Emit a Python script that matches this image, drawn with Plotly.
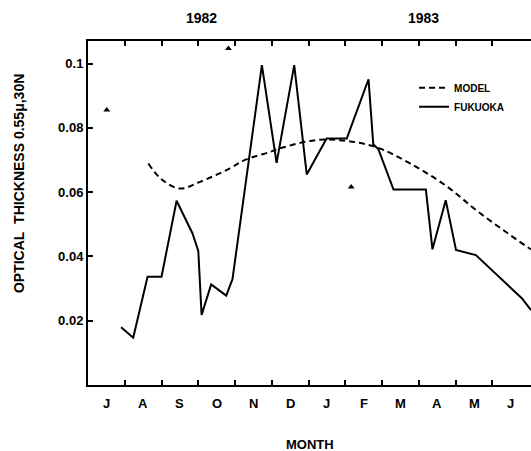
import plotly.graph_objects as go

# x = months since 1 July 1982
month_labels = ["J", "A", "S", "O", "N", "D", "J", "F", "M", "A", "M", "J"]
month_centers = [i + 0.5 for i in range(12)]
month_ticks = list(range(1, 12))
years = ["1982", "1983"]
year_pos = [3.1, 9.12]

fuk_x = [0.90, 1.23, 1.62, 2.00, 2.41, 2.84, 3.00, 3.09, 3.35, 3.76, 3.93, 4.09,
         4.73, 5.13, 5.61, 5.95, 6.49, 7.04, 7.63, 7.76, 7.90, 8.31, 9.19, 9.37,
         9.73, 10.01, 10.55, 11.80, 12.05]
fuk_y = [0.018, 0.0147, 0.0337, 0.0337, 0.0573, 0.0472, 0.0417, 0.0218, 0.0313, 0.0278,
         0.0329, 0.0461, 0.0995, 0.0691, 0.0995, 0.0655, 0.0767, 0.0767, 0.0951, 0.0749,
         0.0733, 0.0608, 0.0608, 0.0422, 0.0575, 0.042, 0.0404, 0.027, 0.0233]

model_x = [1.64, 2.0, 2.5, 3.05, 3.86, 4.27, 4.95, 5.22, 6.22, 7.04, 7.86, 8.76,
           9.71, 10.67, 11.94, 12.05]
model_y = [0.0689, 0.0640, 0.0611, 0.0632, 0.0674, 0.0700, 0.0725, 0.0736, 0.0762,
           0.0759, 0.0739, 0.0689, 0.0622, 0.0534, 0.043, 0.0422]

tri_x = [0.51, 3.82, 7.16]
tri_y = [0.0855, 0.1047, 0.0616]

y_ticks = [0.02, 0.04, 0.06, 0.08, 0.1]
y_labels = ["0.02", "0.04", "0.06", "0.08", "0.1"]

fig = go.Figure()
fig.add_trace(go.Scatter(x=model_x, y=model_y, mode="lines", name="<b>MODEL</b>",
                         line=dict(color="black", width=2, dash="6px,4px", shape="spline")))
fig.add_trace(go.Scatter(x=fuk_x, y=fuk_y, mode="lines", name="<b>FUKUOKA</b>",
                         line=dict(color="black", width=2)))
fig.add_trace(go.Scatter(x=tri_x, y=tri_y, mode="markers", showlegend=False,
                         marker=dict(symbol="triangle-up", size=6, color="black")))

fontfam = "Liberation Sans, Arial, sans-serif"
ann = []
for lab, xc in zip(month_labels, month_centers):
    ann.append(dict(x=xc, y=-0.055, xref="x", yref="paper", text="<b>%s</b>" % lab,
                    showarrow=False, font=dict(size=13, color="black", family=fontfam),
                    xanchor="center", yanchor="middle"))
for lab, xc in zip(years, year_pos):
    ann.append(dict(x=xc, y=1.067, xref="x", yref="paper", text="<b>%s</b>" % lab,
                    showarrow=False, font=dict(size=14, color="black", family=fontfam),
                    xanchor="center", yanchor="middle"))
ann.append(dict(x=6.04, y=-0.174, xref="x", yref="paper", text="<b>MONTH</b>",
                showarrow=False, font=dict(size=13, color="black", family=fontfam),
                xanchor="center", yanchor="middle"))
ann.append(dict(x=0, y=0.584, xref="paper", yref="paper", xshift=-69,
                text="<b>OPTICAL\u00a0\u00a0THICKNESS 0.55μ,30N</b>", textangle=-90,
                showarrow=False,
                font=dict(size=14, color="black", family=fontfam),
                xanchor="center", yanchor="middle"))

fig.update_layout(
    width=531, height=451,
    margin=dict(l=88, r=0, t=41, b=66),
    paper_bgcolor="white", plot_bgcolor="white",
    annotations=ann,
    legend=dict(x=0.736, y=0.9065, xanchor="left", yanchor="top",
                font=dict(size=10, color="black", family=fontfam),
                bgcolor="rgba(0,0,0,0)", tracegroupgap=0),
    xaxis=dict(range=[0, 12.05], tickvals=month_ticks, ticktext=[""] * len(month_ticks),
               ticks="inside", ticklen=5, tickwidth=1.5, tickcolor="black",
               showline=True, linecolor="black", linewidth=2, mirror="ticks",
               showgrid=False, zeroline=False),
    yaxis=dict(range=[0, 0.107], tickvals=y_ticks, ticktext=["<b>%s</b>" % t for t in y_labels],
               ticks="inside", ticklen=5, tickwidth=1.5, tickcolor="black",
               showline=True, linecolor="black", linewidth=2,
               tickfont=dict(size=13, color="black", family=fontfam),
               showgrid=False, zeroline=False),
)

fig.write_html("out.html")
